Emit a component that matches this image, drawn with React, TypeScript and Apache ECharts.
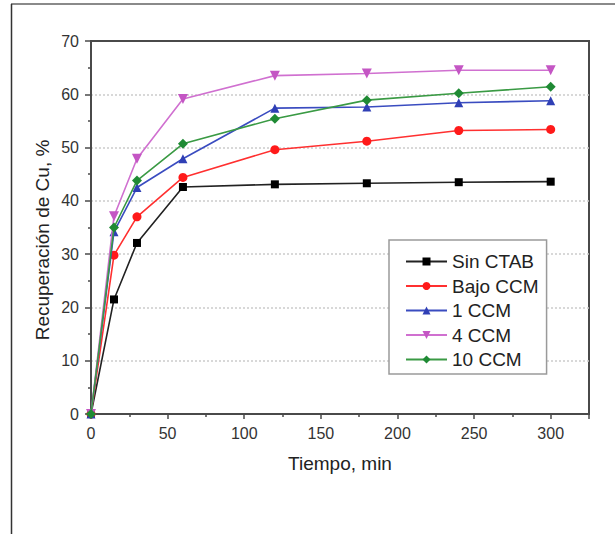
import React, { useEffect, useRef } from "react";
import * as echarts from "echarts";

const tiempo = [0, 15, 30, 60, 120, 180, 240, 300];
const seriesNames = ["Sin CTAB", "Bajo CCM", "1 CCM", "4 CCM", "10 CCM"];
const sinCTAB = [0, 21.5, 32.1, 42.6, 43.1, 43.3, 43.5, 43.6];
const bajoCCM = [0, 29.8, 37.0, 44.4, 49.6, 51.2, 53.2, 53.4];
const ccm1 = [0, 34.2, 42.5, 47.9, 57.4, 57.6, 58.4, 58.8];
const ccm4 = [0, 37.1, 47.9, 59.1, 63.5, 63.9, 64.5, 64.5];
const ccm10 = [0, 35.0, 43.8, 50.7, 55.4, 58.9, 60.2, 61.4];
const seriesValues = [sinCTAB, bajoCCM, ccm1, ccm4, ccm10];

const colors = ["#000000", "#ff1a1a", "#2f3fb5", "#c456c4", "#1f8a34"];
const lineColors = ["#222222", "#ff3030", "#3a4cc0", "#d070d0", "#3a9a44"];
const symbols = ["rect", "circle", "triangle", "path://M0,0 L10,0 L5,9 Z", "diamond"];
const symbolSizes = [8, 9, 9, 10, 10];

export default function App() {
  const ref = useRef<HTMLDivElement>(null);
  useEffect(() => {
    if (!ref.current) return;
    const chart = echarts.init(ref.current, undefined, { renderer: "svg" });
    const font = "Arial, 'Liberation Sans', sans-serif";
    chart.setOption({
      animation: false,
      backgroundColor: "#ffffff",
      textStyle: { fontFamily: font },
      grid: {
        left: 91,
        right: 26,
        top: 41,
        bottom: 120,
        show: true,
        borderColor: "#4a4a4a",
        borderWidth: 2,
        backgroundColor: "transparent",
      },
      legend: {
        data: seriesNames,
        orient: "vertical",
        left: 389,
        top: 240,
        itemWidth: 41,
        itemHeight: 10,
        itemGap: 5.5,
        padding: [12, 8, 5, 16],
        borderColor: "#9a9a9a",
        borderWidth: 1.5,
        backgroundColor: "#ffffff",
        textStyle: { fontSize: 19, color: "#222", fontFamily: font },
      },
      xAxis: {
        type: "value",
        min: 0,
        max: 325,
        interval: 50,
        name: "Tiempo, min",
        nameLocation: "middle",
        nameGap: 40,
        nameTextStyle: { fontSize: 19, color: "#222", fontFamily: font },
        axisLine: { show: true, lineStyle: { color: "#4a4a4a", width: 2 } },
        axisTick: { show: true, inside: false, length: 5, lineStyle: { color: "#4a4a4a", width: 1.5 } },
        minorTick: { show: true, splitNumber: 2, length: 3, lineStyle: { color: "#4a4a4a", width: 1.5 } },
        axisLabel: { showMaxLabel: false, fontSize: 16, color: "#333", margin: 11, fontFamily: font },
        splitLine: { show: false },
      },
      yAxis: {
        type: "value",
        min: 0,
        max: 70,
        interval: 10,
        axisLine: { show: true, lineStyle: { color: "#4a4a4a", width: 2 } },
        axisTick: { show: true, inside: false, length: 6, lineStyle: { color: "#4a4a4a", width: 1.5 } },
        minorTick: { show: true, splitNumber: 2, length: 3, lineStyle: { color: "#4a4a4a", width: 1.5 } },
        axisLabel: { fontSize: 16, color: "#333", margin: 12, fontFamily: font },
        splitLine: {
          show: true,
          showMinLine: false,
          showMaxLine: false,
          lineStyle: { color: "#cccccc", type: [2, 2], width: 1.5 },
        },
      },
      graphic: [
        {
          type: "line",
          shape: { x1: 11, y1: 4, x2: 615, y2: 4 },
          style: { stroke: "#8a8a8a", lineWidth: 2 },
        },
        {
          type: "line",
          shape: { x1: 11.5, y1: 4, x2: 11.5, y2: 534 },
          style: { stroke: "#333333", lineWidth: 1.5 },
        },
        {
          type: "text",
          x: 42,
          y: 240,
          rotation: Math.PI / 2,
          style: {
            text: "Recuperación de Cu, %",
            fontSize: 19,
            fontFamily: font,
            fill: "#222",
            align: "center",
            verticalAlign: "middle",
          },
        },
      ],
      series: seriesNames.map((name, i) => ({
        name,
        type: "line",
        data: tiempo.map((t, j) => [t, seriesValues[i][j]]),
        symbol: symbols[i],
        symbolSize: symbolSizes[i],
        itemStyle: { color: colors[i] },
        lineStyle: { color: lineColors[i], width: 1.6 },
        z: 2 + i,
      })),
    });
    return () => chart.dispose();
  }, []);
  return (
    <div
      ref={ref}
      style={{ position: "fixed", left: 0, top: 0, width: 615, height: 534 }}
    />
  );
}
